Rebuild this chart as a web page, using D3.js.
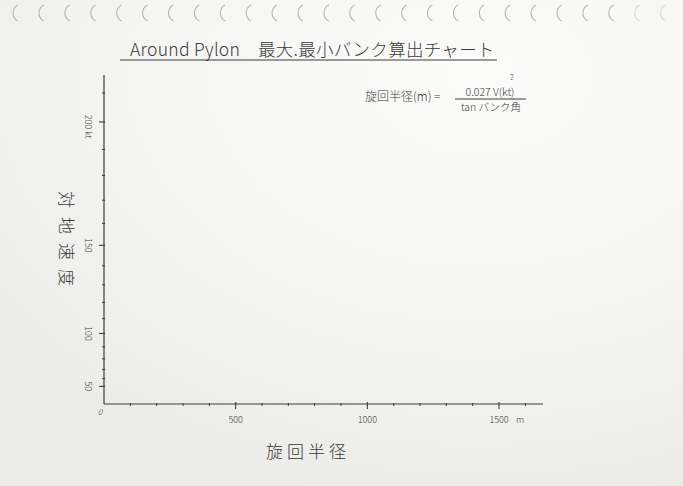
<!DOCTYPE html>
<html>
<head>
<meta charset="utf-8">
<script src="https://cdn.jsdelivr.net/npm/d3@7/dist/d3.min.js"></script>
<style>
  html, body { margin: 0; padding: 0; background: #f3f3f1; }
  svg { display: block; }
  text { font-family: "Noto Sans CJK JP", "Noto Sans", sans-serif; fill: #3a3a3a; }
</style>
</head>
<body>
<svg id="chart" width="683" height="486"></svg>
<script>
// ---- data ----
const title = "Around Pylon\u3000最大.最小バンク算出チャート";
const xAxisTitle = "旋回半径";
const yAxisTitle = "対地速度";
const xMajorTicks = [500, 1000, 1500];
const xTickLabels = ["500", "1000", "1500"];
const xMinorTicks = [100, 200, 300, 400, 600, 700, 800, 900, 1100, 1200, 1300, 1400, 1600];
const yMajorTicks = [50, 100, 150, 200];
const yTickLabels = ["50", "100", "150", "200"];
const yMinorTicks = [60, 70, 80, 90, 110, 120, 130, 140, 160, 170, 180, 190, 210];
const xUnit = "m";
const yUnit = "kt";
const xDomain = [0, 1667];
const yDomain = [0, 216];
const formulaLeft = "旋回半径(m) =";
const formulaNum = "0.027 V(kt)";
const formulaDen = "tan バンク角";

const svg = d3.select("#chart");
const W = 683, H = 486;

// paper background
const defs = svg.append("defs");
const grad = defs.append("radialGradient").attr("id", "paper")
  .attr("cx", "0.7").attr("cy", "0.15").attr("r", "0.9");
grad.append("stop").attr("offset", "0").attr("stop-color", "#fbfbfa");
grad.append("stop").attr("offset", "0.6").attr("stop-color", "#f4f4f2");
grad.append("stop").attr("offset", "1").attr("stop-color", "#ebebe8");
svg.append("rect").attr("width", W).attr("height", H).attr("fill", "url(#paper)");

// notebook holes
const holes = d3.range(26).map(i => 15 + i * 25.9);
svg.append("g").selectAll("path").data(holes).join("path")
  .attr("d", x => `M${x + 3},${5} A9,9 0 0 0 ${x + 3},${21}`)
  .attr("fill", "none").attr("stroke", "#a0a0a0").attr("stroke-width", 1.1)
  .attr("opacity", (d, i) => i >= 24 ? 0.35 : 0.75);

// scales
const x = d3.scaleLinear().domain(xDomain).range([104, 543]);
const y = d3.scalePow().exponent(2).domain(yDomain).range([404, 75]);

const ink = "#3c3c3c";

// axes lines
svg.append("line").attr("x1", x(0)).attr("x2", x(xDomain[1])).attr("y1", y(0)).attr("y2", y(0))
  .attr("stroke", ink).attr("stroke-width", 1.2);
svg.append("line").attr("x1", x(0)).attr("x2", x(0)).attr("y1", y(0)).attr("y2", y(yDomain[1]))
  .attr("stroke", ink).attr("stroke-width", 1.2);

// x ticks
svg.append("g").selectAll("line").data(xMinorTicks).join("line")
  .attr("x1", d => x(d)).attr("x2", d => x(d)).attr("y1", y(0) - 1).attr("y2", y(0) + 2)
  .attr("stroke", ink).attr("stroke-width", 1);
svg.append("g").selectAll("line").data(xMajorTicks).join("line")
  .attr("x1", d => x(d)).attr("x2", d => x(d)).attr("y1", y(0) - 2).attr("y2", y(0) + 5)
  .attr("stroke", ink).attr("stroke-width", 1.1);
svg.append("g").selectAll("text").data(xMajorTicks).join("text")
  .attr("x", d => x(d)).attr("y", y(0) + 19)
  .attr("text-anchor", "middle").attr("font-size", 9).attr("font-weight", 300)
  .text((d, i) => xTickLabels[i]);
svg.append("text").attr("x", x(1500) + 21).attr("y", y(0) + 19)
  .attr("text-anchor", "middle").attr("font-size", 9).attr("font-weight", 300).text(xUnit);
svg.append("text").attr("x", x(0) - 4).attr("y", y(0) + 11)
  .attr("text-anchor", "middle").attr("font-size", 8.5).attr("font-style", "italic").attr("font-weight", 300).text("0");

// y ticks
svg.append("g").selectAll("line").data(yMinorTicks).join("line")
  .attr("x1", x(0) - 2).attr("x2", x(0) + 1).attr("y1", d => y(d)).attr("y2", d => y(d))
  .attr("stroke", ink).attr("stroke-width", 1);
svg.append("g").selectAll("line").data(yMajorTicks).join("line")
  .attr("x1", x(0) - 5).attr("x2", x(0) + 1).attr("y1", d => y(d)).attr("y2", d => y(d))
  .attr("stroke", ink).attr("stroke-width", 1.1);
svg.append("g").selectAll("text").data(yMajorTicks).join("text")
  .attr("transform", d => `translate(${x(0) - 16},${y(d)}) rotate(90)`)
  .attr("text-anchor", "middle").attr("dy", "0.35em")
  .attr("font-size", 9).attr("font-weight", 300)
  .text((d, i) => yTickLabels[i]);
svg.append("text")
  .attr("transform", `translate(${x(0) - 16},${y(200) + 13}) rotate(90)`)
  .attr("text-anchor", "middle").attr("dy", "0.35em")
  .attr("font-size", 9).attr("font-weight", 300).text(yUnit);

// title
svg.append("text").attr("x", 130).attr("y", 56)
  .attr("font-size", 17.5).attr("font-weight", 300).attr("letter-spacing", 0.3)
  .text(title);
svg.append("line").attr("x1", 120).attr("x2", 497).attr("y1", 60).attr("y2", 60)
  .attr("stroke", ink).attr("stroke-width", 1.1);

// formula
svg.append("text").attr("x", 365).attr("y", 101).attr("font-size", 12).attr("font-weight", 300).text(formulaLeft);
svg.append("text").attr("x", 490).attr("y", 96).attr("text-anchor", "middle")
  .attr("font-size", 10.5).attr("font-weight", 300).text(formulaNum);
svg.append("text").attr("x", 512).attr("y", 80).attr("text-anchor", "middle")
  .attr("font-size", 7.5).attr("font-weight", 300).text("2");
svg.append("line").attr("x1", 455).attr("x2", 526).attr("y1", 99).attr("y2", 99)
  .attr("stroke", ink).attr("stroke-width", 1);
svg.append("text").attr("x", 491).attr("y", 111).attr("text-anchor", "middle")
  .attr("font-size", 10.5).attr("font-weight", 300).text(formulaDen);

// axis titles
svg.append("text").attr("x", 308).attr("y", 458).attr("text-anchor", "middle")
  .attr("font-size", 17).attr("font-weight", 300).attr("letter-spacing", 4).text(xAxisTitle);
svg.append("text")
  .attr("transform", `translate(66,243) rotate(90)`)
  .attr("text-anchor", "middle").attr("dy", "0.35em")
  .attr("font-size", 17).attr("font-weight", 300).attr("letter-spacing", 9).text(yAxisTitle);
</script>
</body>
</html>
